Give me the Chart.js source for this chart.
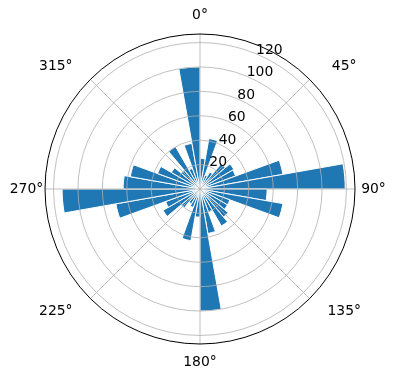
<!DOCTYPE html>
<html>
<head>
<meta charset="utf-8">
<script src="https://cdn.jsdelivr.net/npm/chart.js@4"></script>
<style>
  html, body { margin: 0; padding: 0; background: #fff; }
  #wrap { width: 396px; height: 380px; position: relative; }
</style>
</head>
<body>
<div id="wrap"><canvas id="roseChart"></canvas></div>
<script>
// 36 sectors of 10 degrees, clockwise from north; value = radius
const sectorStarts = [0, 10, 20, 30, 40, 50, 60, 70, 80, 90, 100, 110, 120, 130, 140, 150, 160, 170,
    180, 190, 200, 210, 220, 230, 240, 250, 260, 270, 280, 290, 300, 310, 320, 330, 340, 350];
const counts = [25, 42, 12, 16, 27, 32, 31, 69, 119, 55, 69, 26, 26, 30, 35, 20, 37, 100,
    23, 43, 16, 14, 20, 35, 30, 70, 113, 63, 58, 37, 27, 20, 40, 18, 38, 100];
const angleTicks = [0, 45, 90, 135, 180, 225, 270, 315];
const radiusMax = 127;
const radiusStep = 20;

const FONT = '13.9px "DejaVu Sans", sans-serif';

const polarDecor = {
    id: 'polarDecor',
    afterDatasetsDraw(chart) {
        const r = chart.scales.r;
        const ctx = chart.ctx;
        const cx = r.xCenter, cy = r.yCenter;
        const R = r.getDistanceFromCenterForValue(radiusMax);
        ctx.save();

        // circular grid
        ctx.strokeStyle = '#b0b0b0';
        ctx.lineWidth = 0.8;
        r.ticks.forEach(t => {
            if (t.value <= 0 || t.value >= radiusMax) return;
            const d = r.getDistanceFromCenterForValue(t.value);
            ctx.beginPath();
            ctx.arc(cx, cy, d, 0, Math.PI * 2);
            ctx.stroke();
        });
        // angular grid
        angleTicks.forEach(a => {
            const th = a * Math.PI / 180;
            ctx.beginPath();
            ctx.moveTo(cx, cy);
            ctx.lineTo(cx + R * Math.sin(th), cy - R * Math.cos(th));
            ctx.stroke();
        });
        // outer spine
        ctx.strokeStyle = '#000';
        ctx.lineWidth = 1;
        ctx.beginPath();
        ctx.arc(cx, cy, R, 0, Math.PI * 2);
        ctx.stroke();

        // radial tick labels along 22.5 deg
        ctx.fillStyle = '#000';
        ctx.font = FONT;
        ctx.textAlign = 'left';
        ctx.textBaseline = 'alphabetic';
        const lt = 22.5 * Math.PI / 180;
        r.ticks.forEach(t => {
            if (t.value <= 0 || t.value >= radiusMax) return;
            const d = r.getDistanceFromCenterForValue(t.value);
            ctx.fillText(String(t.value), cx + d * Math.sin(lt), cy - d * Math.cos(lt));
        });

        // angle labels
        ctx.textAlign = 'center';
        ctx.textBaseline = 'middle';
        angleTicks.forEach(a => {
            const th = a * Math.PI / 180;
            const s = Math.sin(th), c = Math.cos(th);
            const d = R + 18.5;
            const x = cx + d * s + Math.sign(Math.round(s * 1000)) * 43 * Math.abs(s * c);
            const y = cy - d * c;
            ctx.fillText(a + '°', x, y);
        });
        ctx.restore();
    }
};

new Chart(document.getElementById('roseChart'), {
    type: 'polarArea',
    data: {
        labels: sectorStarts.map(s => s + '°'),
        datasets: [{
            data: counts,
            backgroundColor: '#1f77b4',
            borderColor: '#ffffff',
            borderWidth: 1
        }]
    },
    options: {
        responsive: true,
        maintainAspectRatio: false,
        animation: false,
        layout: { padding: { top: 34, bottom: 35, left: 45, right: 40 } },
        plugins: {
            legend: { display: false },
            tooltip: { enabled: false }
        },
        scales: {
            r: {
                min: 0,
                max: radiusMax,
                startAngle: 0,
                ticks: { display: false, stepSize: radiusStep },
                grid: { display: false },
                angleLines: { display: false },
                pointLabels: { display: false }
            }
        }
    },
    plugins: [polarDecor]
});
</script>
</body>
</html>
